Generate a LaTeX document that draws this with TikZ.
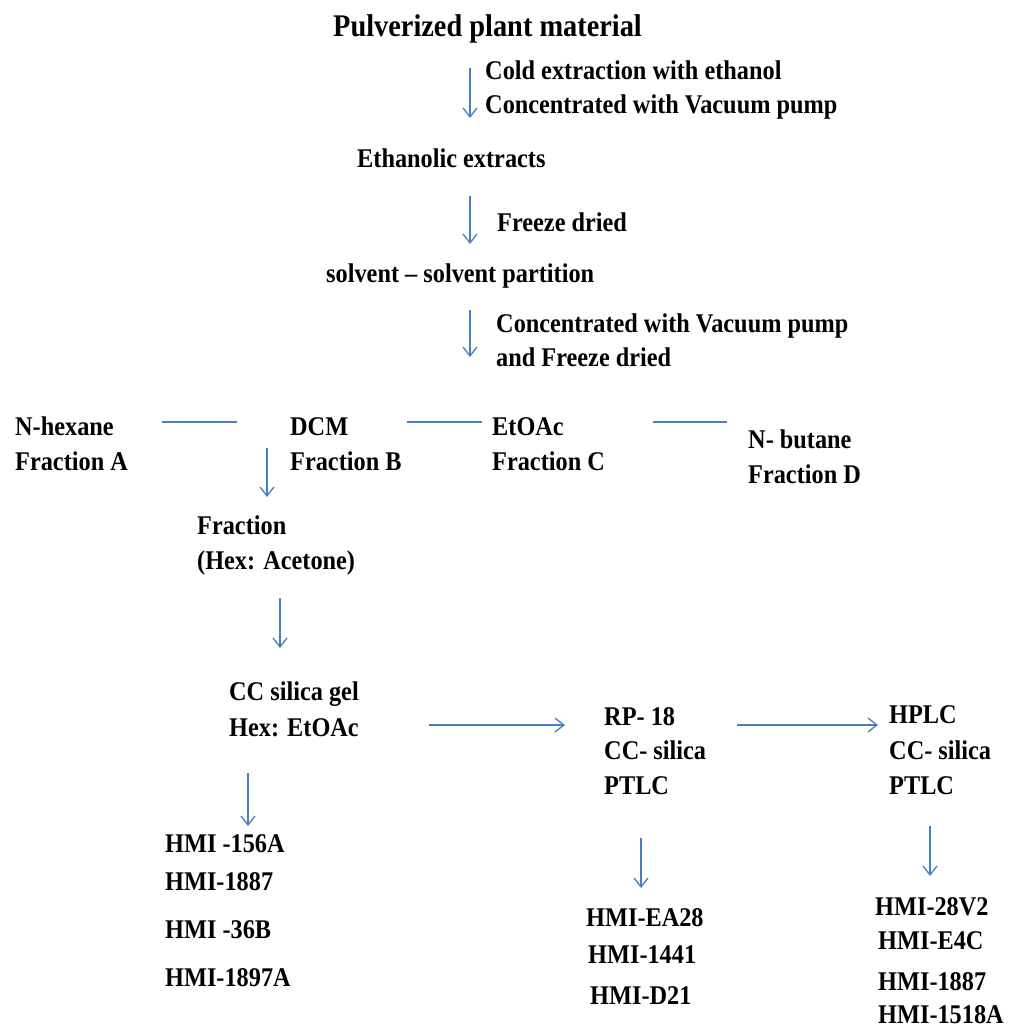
\documentclass[tikz,border=0pt]{standalone}
\usepackage{fontspec}
\setmainfont{Liberation Serif}[FakeStretch=0.9]
\usetikzlibrary{arrows.meta}
\definecolor{arr}{RGB}{74,126,193}
\tikzset{
  txt/.style={anchor=west,inner sep=0pt,yshift=-6pt,font=\bfseries\fontsize{27}{32}\selectfont,text height=0.66em,text depth=0pt},
  big/.style={txt,font=\bfseries\fontsize{31.5}{36}\selectfont},
  flow/.style={draw=arr,line width=1.3pt,-{Straight Barb[length=9pt,width=14pt,line width=1.3pt]}},
  link/.style={draw=arr,line width=1.6pt}
}
\begin{document}
\begin{tikzpicture}[x=1pt,y=-1pt]
\useasboundingbox (0,0) rectangle (1010,1031);
% texts
\node[big] (title) at (333,27) {Pulverized plant material};
\node[txt] (cold) at (485,70) {Cold extraction with ethanol};
\node[txt] (conc1) at (485,104) {Concentrated with Vacuum pump};
\node[txt] (eth) at (357,158) {Ethanolic extracts};
\node[txt] (fd) at (497,222) {Freeze dried};
\node[txt] (part) at (326,273) {solvent -- solvent partition};
\node[txt] (conc2) at (496,323) {Concentrated with Vacuum pump};
\node[txt] (fd2) at (496,357) {and Freeze dried};
\node[txt] (hex) at (15,426) {N-hexane};
\node[txt] (fa) at (15,461) {Fraction A};
\node[txt] (dcm) at (290,426) {DCM};
\node[txt] (fb) at (290,461) {Fraction B};
\node[txt] (etoac) at (492,426) {EtOAc};
\node[txt] (fc) at (492,461) {Fraction C};
\node[txt] (but) at (748,439) {N- butane};
\node[txt] (fdd) at (748,474) {Fraction D};
\node[txt] (frac) at (197,525) {Fraction};
\node[txt] (hexac) at (197,560) {(Hex: Acetone)};
\node[txt] (cc1) at (229,691) {CC silica gel};
\node[txt] (cc2) at (229,727) {Hex: EtOAc};
\node[txt] (rp1) at (604,716) {RP- 18};
\node[txt] (rp2) at (604,750) {CC- silica};
\node[txt] (rp3) at (604,785) {PTLC};
\node[txt] (hp1) at (889,714) {HPLC};
\node[txt] (hp2) at (889,750) {CC- silica};
\node[txt] (hp3) at (889,785) {PTLC};
\node[txt] (a1) at (165,843) {HMI -156A};
\node[txt] (a2) at (165,881) {HMI-1887};
\node[txt] (a3) at (165,929) {HMI -36B};
\node[txt] (a4) at (165,977) {HMI-1897A};
\node[txt] (b1) at (586,917) {HMI-EA28};
\node[txt] (b2) at (588,954) {HMI-1441};
\node[txt] (b3) at (590,995) {HMI-D21};
\node[txt] (c1) at (875,906) {HMI-28V2};
\node[txt] (c2) at (878,940) {HMI-E4C};
\node[txt] (c3) at (878,981) {HMI-1887};
\node[txt] (c4) at (878,1014) {HMI-1518A};
% arrow end points
\coordinate (s1) at (470,68);  \coordinate (e1) at (470,118);
\coordinate (s2) at (470,196); \coordinate (e2) at (470,244);
\coordinate (s3) at (470,310); \coordinate (e3) at (470,357);
\coordinate (s4) at (267,448); \coordinate (e4) at (267,497);
\coordinate (s5) at (280,598); \coordinate (e5) at (280,648);
\coordinate (s6) at (429,725); \coordinate (e6) at (565,725);
\coordinate (s7) at (737,725); \coordinate (e7) at (878,725);
\coordinate (s8) at (248,773); \coordinate (e8) at (248,826);
\coordinate (s9) at (641,838); \coordinate (e9) at (641,888);
\coordinate (s10) at (930,826); \coordinate (e10) at (930,876);
\coordinate (l1a) at (162,422); \coordinate (l1b) at (237,422);
\coordinate (l2a) at (407,422); \coordinate (l2b) at (482,422);
\coordinate (l3a) at (653,422); \coordinate (l3b) at (727,422);
\foreach \i in {1,...,10} \draw[flow] (s\i) -- (e\i);
\draw[link] (l1a) -- (l1b);
\draw[link] (l2a) -- (l2b);
\draw[link] (l3a) -- (l3b);
\end{tikzpicture}
\end{document}
